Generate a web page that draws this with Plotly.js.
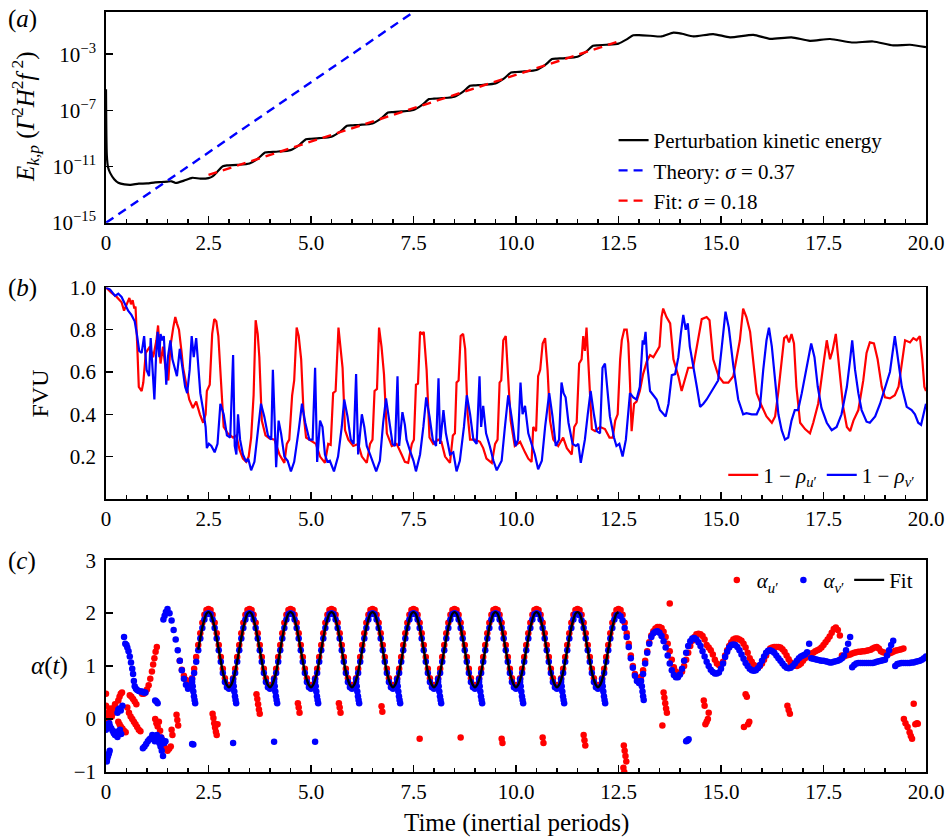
<!DOCTYPE html>
<html><head><meta charset="utf-8">
<script src="https://cdn.plot.ly/plotly-3.0.1.min.js"></script>
<style>html,body{margin:0;padding:0;background:#fff}#chart{width:946px;height:839px}</style>
</head><body><div id="chart"></div>
<script>
// ---------- shared axis ticks ----------
const timeTickVals = [0, 2.5, 5, 7.5, 10, 12.5, 15, 17.5, 20];
const timeTickText = ['0', '2.5', '5.0', '7.5', '10.0', '12.5', '15.0', '17.5', '20.0'];

// ---------- panel (a): log10 of perturbation kinetic energy ----------
const energyPoints = [
 [0,-5.5],[0.02,-10.2],[0.05,-11.05],[0.1,-11.45],[0.2,-11.9],[0.3,-12.15],[0.45,-12.27],[0.6,-12.3],
 [0.8,-12.22],[1.0,-12.2],[1.2,-12.12],[1.35,-12.1],[1.5,-12.07],[1.6,-12.05],[1.7,-12.17],[1.9,-12.0],
 [2.1,-11.8],[2.3,-11.86],[2.5,-11.82],[2.6,-11.7],[2.72,-11.35],[2.85,-10.98],[2.95,-10.92],[3.2,-10.88],
 [3.5,-10.78],[3.72,-10.4],[3.88,-10.0],[4.0,-9.97],[4.2,-9.93],[4.5,-9.83],[4.72,-9.45],[4.88,-9.05],
 [5.0,-9.02],[5.2,-8.98],[5.5,-8.88],[5.72,-8.5],[5.88,-8.1],[6.0,-8.07],[6.2,-8.03],[6.5,-7.93],
 [6.72,-7.55],[6.88,-7.15],[7.0,-7.12],[7.2,-7.08],[7.5,-6.98],[7.72,-6.6],[7.88,-6.2],[8.0,-6.17],
 [8.2,-6.13],[8.5,-6.03],[8.72,-5.65],[8.88,-5.25],[9.0,-5.22],[9.2,-5.18],[9.5,-5.08],[9.72,-4.7],
 [9.88,-4.3],[10.0,-4.27],[10.2,-4.23],[10.5,-4.13],[10.72,-3.75],[10.88,-3.35],[11.0,-3.32],[11.2,-3.28],
 [11.5,-3.18],[11.72,-2.8],[11.88,-2.4],[12.0,-2.37],[12.2,-2.33],[12.5,-2.25],[12.7,-1.95],[12.86,-1.66],
 [13.0,-1.65],[13.27,-1.69],[13.55,-1.74],[13.84,-1.47],[14.05,-1.55],[14.33,-1.74],[14.81,-1.57],[15.22,-1.8],
 [15.79,-1.63],[16.19,-1.91],[16.72,-1.8],[17.17,-2.05],[17.66,-1.92],[18.19,-2.17],[18.71,-2.1],[19.2,-2.38],
 [19.61,-2.33],[20.0,-2.5]
];
const theoryT = [0, 7.5];
const theoryLog10 = [-15, 0];
const growthFitT = [2.5, 12.5];
const growthFitLog10 = [-11.6, -2.1];
const energyTickVals = [-15, -11, -7, -3];
const energyTickText = ['10<sup>−15</sup>', '10<sup>−11</sup>', '10<sup>−7</sup>', '10<sup>−3</sup>'];

// ---------- panel (b): FVU ----------
const fvuU = [
 [0,1.0],[0.13,0.975],[0.26,0.955],[0.38,0.93],[0.44,0.89],[0.5,0.92],[0.57,0.95],[0.61,0.92],[0.65,0.94],[0.69,0.90],
 [0.72,0.91],[0.76,0.735],[0.80,0.53],[0.87,0.51],[0.91,0.55],[0.97,0.69],[1.07,0.72],[1.15,0.67],[1.23,0.75],[1.27,0.82],
 [1.33,0.64],[1.39,0.72],[1.45,0.62],[1.52,0.56],[1.57,0.72],[1.64,0.81],[1.69,0.86],[1.73,0.83],[1.78,0.80],[1.84,0.70],
 [1.88,0.62],[1.94,0.56],[2.03,0.47],[2.12,0.43],[2.20,0.46],[2.29,0.40],[2.37,0.36],[2.43,0.40],[2.46,0.51],[2.53,0.54],
 [2.59,0.78],[2.64,0.85],[2.69,0.84],[2.74,0.77],[2.79,0.59],[2.87,0.34],[2.97,0.31],[3.10,0.29],[3.18,0.30],[3.26,0.23],
 [3.34,0.19],[3.42,0.175],[3.48,0.20],[3.54,0.29],[3.60,0.49],[3.65,0.845],[3.70,0.78],[3.74,0.67],[3.80,0.37],[3.89,0.30],
 [3.99,0.285],[4.11,0.28],[4.23,0.21],[4.35,0.17],[4.41,0.26],[4.47,0.28],[4.54,0.49],[4.59,0.56],[4.65,0.81],[4.70,0.77],
 [4.76,0.66],[4.82,0.40],[4.88,0.29],[5.04,0.27],[5.12,0.26],[5.22,0.20],[5.34,0.17],[5.42,0.26],[5.48,0.255],[5.54,0.50],
 [5.60,0.51],[5.67,0.81],[5.72,0.72],[5.77,0.62],[5.83,0.325],[5.91,0.28],[6.03,0.25],[6.15,0.26],[6.24,0.20],[6.36,0.17],
 [6.44,0.26],[6.50,0.28],[6.55,0.51],[6.61,0.52],[6.66,0.81],[6.72,0.72],[6.78,0.59],[6.85,0.31],[6.97,0.25],[7.09,0.26],
 [7.21,0.21],[7.29,0.175],[7.37,0.17],[7.46,0.26],[7.51,0.28],[7.56,0.54],[7.61,0.545],[7.66,0.79],[7.71,0.78],[7.75,0.79],
 [7.82,0.61],[7.89,0.29],[7.98,0.26],[8.10,0.28],[8.18,0.27],[8.27,0.20],[8.39,0.17],[8.46,0.30],[8.51,0.31],[8.55,0.55],
 [8.60,0.56],[8.65,0.77],[8.71,0.78],[8.76,0.71],[8.82,0.40],[8.88,0.28],[9.00,0.28],[9.12,0.27],[9.20,0.24],[9.28,0.19],
 [9.41,0.17],[9.49,0.26],[9.55,0.28],[9.60,0.55],[9.64,0.56],[9.69,0.75],[9.75,0.77],[9.81,0.56],[9.87,0.37],[9.97,0.25],
 [10.10,0.27],[10.22,0.22],[10.30,0.19],[10.38,0.175],[10.42,0.34],[10.49,0.32],[10.54,0.58],[10.59,0.61],[10.65,0.735],[10.71,0.76],
 [10.77,0.61],[10.83,0.37],[10.91,0.28],[11.03,0.25],[11.15,0.29],[11.24,0.24],[11.36,0.21],[11.42,0.34],[11.48,0.36],[11.54,0.64],
 [11.60,0.66],[11.64,0.77],[11.68,0.70],[11.72,0.81],[11.78,0.58],[11.85,0.33],[11.93,0.32],[12.05,0.34],[12.17,0.33],[12.28,0.29],
 [12.36,0.29],[12.42,0.37],[12.48,0.40],[12.54,0.66],[12.58,0.75],[12.64,0.80],[12.70,0.80],[12.74,0.735],[12.78,0.55],[12.82,0.32],
 [12.88,0.45],[12.94,0.46],[13.02,0.51],[13.10,0.59],[13.19,0.65],[13.27,0.68],[13.35,0.67],[13.43,0.70],[13.50,0.72],[13.55,0.86],
 [13.59,0.90],[13.67,0.86],[13.76,0.83],[13.84,0.66],[13.96,0.58],[14.04,0.51],[14.12,0.56],[14.20,0.62],[14.32,0.62],[14.41,0.72],
 [14.53,0.85],[14.65,0.86],[14.72,0.845],[14.81,0.66],[14.94,0.58],[15.06,0.55],[15.18,0.55],[15.30,0.58],[15.38,0.66],[15.46,0.75],
 [15.54,0.90],[15.62,0.86],[15.71,0.79],[15.79,0.64],[15.87,0.50],[15.99,0.44],[16.11,0.39],[16.24,0.36],[16.32,0.39],[16.40,0.51],
 [16.48,0.64],[16.54,0.76],[16.60,0.77],[16.66,0.74],[16.72,0.78],[16.78,0.735],[16.84,0.53],[16.93,0.36],[17.05,0.33],[17.17,0.31],
 [17.25,0.36],[17.37,0.45],[17.50,0.64],[17.58,0.75],[17.66,0.66],[17.72,0.70],[17.80,0.78],[17.88,0.62],[17.98,0.435],[18.07,0.34],
 [18.15,0.32],[18.23,0.37],[18.35,0.42],[18.47,0.56],[18.55,0.69],[18.63,0.74],[18.73,0.735],[18.82,0.66],[18.92,0.53],[19.00,0.48],
 [19.12,0.475],[19.24,0.49],[19.33,0.53],[19.41,0.64],[19.49,0.75],[19.61,0.74],[19.69,0.76],[19.77,0.75],[19.85,0.77],[19.91,0.66],
 [19.96,0.53],[20.00,0.51]
];
const fvuV = [
 [0,1.0],[0.10,0.99],[0.22,0.96],[0.30,0.97],[0.38,0.955],[0.46,0.925],[0.54,0.89],[0.62,0.87],[0.70,0.84],[0.76,0.77],
 [0.81,0.70],[0.87,0.69],[0.93,0.77],[0.99,0.61],[1.05,0.58],[1.09,0.76],[1.14,0.61],[1.18,0.47],[1.22,0.67],[1.26,0.79],
 [1.30,0.67],[1.33,0.78],[1.37,0.75],[1.41,0.77],[1.45,0.62],[1.47,0.54],[1.51,0.67],[1.57,0.75],[1.62,0.66],[1.68,0.61],
 [1.73,0.58],[1.80,0.71],[1.86,0.62],[1.93,0.53],[1.98,0.50],[2.04,0.61],[2.09,0.77],[2.14,0.67],[2.20,0.76],[2.25,0.62],
 [2.30,0.50],[2.37,0.42],[2.43,0.34],[2.46,0.24],[2.51,0.26],[2.57,0.25],[2.65,0.22],[2.72,0.26],[2.79,0.45],[2.87,0.40],
 [2.95,0.30],[3.03,0.29],[3.10,0.68],[3.14,0.25],[3.18,0.21],[3.22,0.40],[3.27,0.28],[3.34,0.21],[3.42,0.175],[3.47,0.19],
 [3.54,0.135],[3.62,0.175],[3.70,0.31],[3.78,0.45],[3.86,0.39],[3.95,0.30],[4.03,0.28],[4.07,0.61],[4.11,0.39],[4.15,0.15],
 [4.21,0.37],[4.27,0.31],[4.35,0.20],[4.43,0.18],[4.51,0.13],[4.59,0.175],[4.70,0.325],[4.78,0.45],[4.86,0.36],[4.96,0.28],
 [5.04,0.28],[5.10,0.62],[5.15,0.175],[5.22,0.37],[5.28,0.34],[5.34,0.21],[5.40,0.175],[5.46,0.18],[5.56,0.13],[5.66,0.20],
 [5.75,0.34],[5.81,0.47],[5.89,0.39],[5.97,0.28],[6.04,0.26],[6.10,0.59],[6.15,0.21],[6.24,0.40],[6.30,0.34],[6.36,0.25],
 [6.44,0.21],[6.52,0.17],[6.59,0.13],[6.68,0.18],[6.76,0.36],[6.83,0.475],[6.91,0.37],[6.99,0.26],[7.05,0.25],[7.11,0.58],
 [7.15,0.25],[7.23,0.41],[7.29,0.35],[7.33,0.28],[7.41,0.23],[7.50,0.18],[7.56,0.13],[7.66,0.21],[7.74,0.34],[7.81,0.48],
 [7.89,0.39],[7.97,0.28],[8.05,0.25],[8.11,0.57],[8.15,0.26],[8.23,0.42],[8.29,0.31],[8.39,0.21],[8.47,0.22],[8.55,0.13],
 [8.63,0.18],[8.73,0.34],[8.80,0.49],[8.88,0.40],[8.96,0.28],[9.04,0.26],[9.11,0.58],[9.15,0.34],[9.20,0.44],[9.27,0.31],
 [9.36,0.25],[9.45,0.18],[9.53,0.135],[9.65,0.18],[9.73,0.34],[9.81,0.49],[9.89,0.39],[9.99,0.25],[10.05,0.28],[10.11,0.55],
 [10.16,0.40],[10.22,0.44],[10.30,0.31],[10.38,0.26],[10.46,0.21],[10.54,0.14],[10.63,0.18],[10.71,0.34],[10.81,0.50],[10.89,0.39],
 [10.97,0.25],[11.05,0.28],[11.11,0.55],[11.16,0.50],[11.21,0.48],[11.28,0.36],[11.38,0.26],[11.46,0.25],[11.52,0.26],[11.58,0.17],
 [11.68,0.28],[11.75,0.40],[11.82,0.51],[11.90,0.40],[11.97,0.32],[12.05,0.31],[12.11,0.62],[12.17,0.64],[12.22,0.53],[12.29,0.39],
 [12.39,0.29],[12.45,0.25],[12.52,0.26],[12.60,0.20],[12.68,0.28],[12.78,0.50],[12.86,0.48],[12.94,0.47],[13.02,0.53],[13.09,0.75],
 [13.12,0.73],[13.16,0.79],[13.21,0.62],[13.27,0.51],[13.35,0.49],[13.43,0.47],[13.51,0.42],[13.59,0.40],[13.65,0.39],[13.72,0.45],
 [13.80,0.585],[13.88,0.59],[13.96,0.67],[14.02,0.78],[14.08,0.87],[14.14,0.80],[14.19,0.83],[14.24,0.72],[14.32,0.62],[14.41,0.53],
 [14.49,0.435],[14.57,0.45],[14.65,0.47],[14.77,0.51],[14.85,0.53],[14.93,0.56],[15.02,0.72],[15.11,0.885],[15.19,0.81],[15.30,0.63],
 [15.42,0.47],[15.54,0.40],[15.62,0.405],[15.75,0.40],[15.87,0.40],[15.95,0.435],[16.03,0.61],[16.11,0.75],[16.17,0.81],[16.24,0.72],
 [16.32,0.56],[16.40,0.40],[16.48,0.325],[16.56,0.28],[16.64,0.29],[16.72,0.37],[16.80,0.42],[16.88,0.42],[16.97,0.50],[17.09,0.625],
 [17.20,0.735],[17.28,0.67],[17.36,0.53],[17.45,0.43],[17.58,0.36],[17.70,0.325],[17.82,0.34],[17.94,0.40],[18.07,0.53],[18.15,0.66],
 [18.20,0.75],[18.27,0.61],[18.35,0.50],[18.43,0.42],[18.55,0.365],[18.63,0.36],[18.76,0.39],[18.88,0.45],[19.00,0.53],[19.12,0.60],
 [19.24,0.77],[19.33,0.64],[19.41,0.53],[19.53,0.435],[19.65,0.42],[19.73,0.40],[19.81,0.36],[19.88,0.35],[19.94,0.40],[20.00,0.45]
];
const fvuTickVals = [0.2, 0.4, 0.6, 0.8, 1.0];
const fvuTickText = ['0.2', '0.4', '0.6', '0.8', '1.0'];

// ---------- panel (c): alpha(t) ----------
// regularly sampled branches (start time, spacing, values)
const alphaUStart = 1.8, alphaUStep = 0.05;
const alphaUMain = [
 1.10,0.93,0.82,0.74,
 0.70,0.72,0.77,0.95,1.17,1.40,1.62,1.82,1.97,2.06,2.08,2.06,1.97,1.82,1.62,1.40,1.17,0.95,0.77,0.65,
 0.61,0.65,0.77,0.95,1.17,1.40,1.62,1.82,1.97,2.06,2.08,2.06,1.97,1.82,1.62,1.40,1.17,0.95,0.77,0.65,
 0.61,0.65,0.77,0.95,1.17,1.40,1.62,1.82,1.97,2.06,2.08,2.06,1.97,1.82,1.62,1.40,1.17,0.95,0.77,0.65,
 0.61,0.65,0.77,0.95,1.17,1.40,1.62,1.82,1.97,2.06,2.08,2.06,1.97,1.82,1.62,1.40,1.17,0.95,0.77,0.65,
 0.61,0.65,0.77,0.95,1.17,1.40,1.62,1.82,1.97,2.06,2.08,2.06,1.97,1.82,1.62,1.40,1.17,0.95,0.77,0.65,
 0.61,0.65,0.77,0.95,1.17,1.40,1.62,1.82,1.97,2.06,2.08,2.06,1.97,1.82,1.62,1.40,1.17,0.95,0.77,0.65,
 0.61,0.65,0.77,0.95,1.17,1.40,1.62,1.82,1.97,2.06,2.08,2.06,1.97,1.82,1.62,1.40,1.17,0.95,0.77,0.65,
 0.61,0.65,0.77,0.95,1.17,1.40,1.62,1.82,1.97,2.06,2.08,2.06,1.97,1.82,1.62,1.40,1.17,0.95,0.77,0.65,
 0.61,0.65,0.77,0.95,1.17,1.40,1.62,1.82,1.97,2.06,2.08,2.06,1.97,1.82,1.62,1.40,1.17,0.95,0.77,0.65,
 0.61,0.65,0.77,0.95,1.17,1.40,1.62,1.82,1.97,2.06,2.08,2.06,1.97,1.82,1.62,1.40,1.17,0.95,0.77,0.65,
 0.61,0.65,0.77,0.95,1.17,1.40,1.62,1.82,1.97,2.06,2.08,
 2.06,1.97,1.82,1.62,1.42,1.20,1.00,0.85,0.77,0.75,
 0.80,0.92,1.10,1.28,1.45,1.58,1.66,1.71,1.74,1.74,
 1.72,1.65,1.55,1.42,1.28,1.12,0.98,0.90,0.86,0.86,
 0.90,1.00,1.12,1.25,1.38,1.48,1.55,1.60,1.61,1.60,
 1.57,1.50,1.40,1.35,1.30,1.22,1.12,1.05,1.02,1.02,
 1.08,1.20,1.30,1.38,1.45,1.50,1.52,1.52,1.50,1.48,
 1.42,1.35,1.25,1.15,1.08,1.02,0.99,0.98,1.00,1.05,
 1.12,1.20,1.28,1.33,1.35,1.36,1.36,1.36,1.35,1.32,
 1.27,1.20,1.13,1.07,1.03,1.01,1.00,1.02,1.05,1.10,
 1.15,1.20,1.22,1.24,1.25,1.28,1.30,1.32,1.35,1.40,
 1.45,1.50,1.56,1.63,1.70,1.73,1.68,1.58,1.20,1.18,
 1.20,1.21,1.22,1.24,1.25,1.26,1.27,1.27,1.28,1.28,
 1.29,1.30,1.31,1.33,1.35,1.36,1.33,1.28,1.26,1.25,
 1.24,1.24,1.25,1.27,1.29,1.30,1.31,1.32,1.33
];
const alphaUScatter = [
 [0.0,0.48],[0.0,0.25],[0.02,0.05],[0.04,0.1],[0.06,0.0],[0.08,0.15],[0.1,0.2],[0.12,0.12],[0.14,0.05],[0.16,0.1],
 [0.18,0.18],[0.2,0.22],[0.22,0.28],[0.25,0.2],[0.3,0.35],[0.33,0.42],[0.36,0.48],[0.39,0.5],[0.3,-0.05],[0.33,-0.1],
 [0.36,-0.14],[0.4,-0.18],[0.44,-0.22],[0.48,-0.25],[0.52,0.22],[0.56,0.12],[0.6,0.05],[0.64,0.0],[0.68,-0.05],[0.72,-0.1],
 [0.76,-0.15],[0.8,-0.2],[0.84,-0.23],[0.58,0.45],[0.62,0.42],[0.66,0.38],[0.7,0.33],[0.74,0.28],
 [0.88,0.48],[0.92,0.48],[0.96,0.5],[1.0,0.56],[1.04,0.64],[1.08,0.76],[1.12,0.9],[1.15,1.03],[1.18,1.15],[1.21,1.27],[1.24,1.36],
 [1.2,0.0],[1.23,-0.08],[1.26,-0.14],[1.29,-0.05],[1.32,-0.22],[1.35,-0.35],[1.38,-0.45],[1.42,-0.52],[1.46,-0.57],[1.5,-0.6],
 [1.54,-0.56],[1.58,-0.52],[1.6,-0.2],[1.62,-0.3],[1.72,0.08],[1.74,-0.02],[1.76,-0.12],
 [2.6,0.1],[2.62,0.02],[2.64,-0.08],[2.66,-0.16],[2.68,-0.24],[2.7,-0.3],[2.72,-0.1],
 [3.67,0.47],[3.69,0.38],[3.71,0.28],[3.73,0.18],[3.75,0.1],
 [4.68,0.3],[4.7,0.22],[4.72,0.12],[5.68,0.3],[5.7,0.22],[5.72,0.12],[6.72,0.24],[6.74,0.14],
 [7.65,-0.37],[8.65,-0.35],[9.65,-0.37],[9.67,-0.45],[10.65,-0.35],[10.67,-0.45],
 [11.65,-0.3],[11.67,-0.4],[11.69,-0.5],
 [12.63,-0.5],[12.65,-0.6],[12.67,-0.7],[12.69,-0.8],[12.62,-0.92],[12.64,-1.0],
 [13.57,-0.12],[13.6,0.5],[13.62,0.4],[13.64,0.3],[13.66,0.2],[13.68,0.12],[13.75,2.18],
 [14.58,0.35],[14.6,0.25],[14.62,-0.1],[14.65,-0.05],[14.68,0.0],[14.7,0.12],
 [15.56,-0.15],[15.6,0.47],[15.63,0.42],[15.66,-0.1],[15.69,-0.05],
 [16.62,0.25],[16.65,0.17],[16.68,0.1],
 [19.46,0.0],[19.5,-0.08],[19.55,-0.15],[19.6,-0.25],[19.63,-0.32],[19.66,-0.37],[19.7,0.29],[19.74,-0.1],[19.78,-0.08],[19.8,-0.09]
];
const alphaVStart = 1.5, alphaVStep = 0.05;
const alphaVMain = [
 2.08,2.00,1.86,1.68,1.50,1.30,1.10,0.92,0.76,0.65,
 0.57,0.60,0.70,0.87,1.08,1.30,1.52,1.72,1.88,1.98,2.00,1.98,1.88,1.72,1.52,1.30,1.08,0.87,0.70,0.60,
 0.57,0.60,0.70,0.87,1.08,1.30,1.52,1.72,1.88,1.98,2.00,1.98,1.88,1.72,1.52,1.30,1.08,0.87,0.70,0.60,
 0.57,0.60,0.70,0.87,1.08,1.30,1.52,1.72,1.88,1.98,2.00,1.98,1.88,1.72,1.52,1.30,1.08,0.87,0.70,0.60,
 0.57,0.60,0.70,0.87,1.08,1.30,1.52,1.72,1.88,1.98,2.00,1.98,1.88,1.72,1.52,1.30,1.08,0.87,0.70,0.60,
 0.57,0.60,0.70,0.87,1.08,1.30,1.52,1.72,1.88,1.98,2.00,1.98,1.88,1.72,1.52,1.30,1.08,0.87,0.70,0.60,
 0.57,0.60,0.70,0.87,1.08,1.30,1.52,1.72,1.88,1.98,2.00,1.98,1.88,1.72,1.52,1.30,1.08,0.87,0.70,0.60,
 0.57,0.60,0.70,0.87,1.08,1.30,1.52,1.72,1.88,1.98,2.00,1.98,1.88,1.72,1.52,1.30,1.08,0.87,0.70,0.60,
 0.57,0.60,0.70,0.87,1.08,1.30,1.52,1.72,1.88,1.98,2.00,1.98,1.88,1.72,1.52,1.30,1.08,0.87,0.70,0.60,
 0.57,0.60,0.70,0.87,1.08,1.30,1.52,1.72,1.88,1.98,2.00,1.98,1.88,1.72,1.52,1.30,1.08,0.87,0.70,0.60,
 0.57,0.60,0.70,0.87,1.08,1.30,1.52,1.72,1.88,1.98,1.98,1.96,1.86,1.72,1.52,1.30,1.08,0.87,0.70,0.60,
 0.57,0.60,0.70,0.87,1.08,1.30,1.52,1.72,1.88,1.96,1.97,
 1.94,1.86,1.72,1.55,1.36,1.15,0.97,0.82,0.72,0.68,
 0.72,0.85,1.05,1.25,1.42,1.55,1.62,1.65,1.66,1.63,
 1.57,1.47,1.35,1.20,1.05,0.92,0.83,0.79,0.79,0.84,
 0.95,1.10,1.25,1.38,1.47,1.52,1.53,1.50,1.45,1.38,
 1.28,1.18,1.08,1.00,0.93,0.89,0.86,0.86,0.88,0.95,
 1.05,1.17,1.27,1.35,1.40,1.41,1.40,1.36,1.30,1.22,
 1.14,1.06,1.00,0.95,0.92,0.91,0.92,0.96,1.02,1.10,
 1.18,1.25,1.29,1.30,1.28,1.25,1.20,1.15,1.10,1.05,
 1.00,0.97,0.96,0.97,1.00,1.05,1.10,1.15,1.18,1.20,
 1.22,1.26,1.42,1.15,1.14,1.13,1.12,1.11,1.10,1.10,
 1.09,1.08,1.07,1.07,1.08,1.09,1.10,1.12,1.15,1.20,
 1.30,1.42,1.55,0.98,1.02,1.05,1.06,1.06,1.06,1.06,
 1.06,1.06,1.06,1.06,1.07,1.08,1.09,1.10,1.11,1.12,
 1.20,1.30,1.40,1.48,1.00,1.04,1.05,1.06,1.06,1.06,
 1.06,1.06,1.07,1.07,1.08,1.09,1.10,1.12,1.15,1.18
];
const alphaVScatter = [
 [0.0,-0.2],[0.01,-0.78],[0.02,-0.8],[0.03,-0.75],[0.05,-0.7],[0.07,-0.65],[0.09,-0.6],[0.02,-0.1],[0.05,-0.12],[0.08,-0.08],
 [0.1,-0.14],[0.13,-0.18],[0.16,-0.22],[0.19,-0.27],[0.22,-0.3],[0.25,-0.24],[0.28,-0.34],[0.31,-0.25],[0.34,-0.2],[0.37,-0.28],
 [0.28,0.12],[0.3,0.18],[0.33,0.2],[0.36,0.16],[0.4,0.25],[0.44,1.55],[0.47,1.42],[0.5,1.4],[0.52,1.35],[0.55,1.28],
 [0.58,1.18],[0.61,1.07],[0.64,0.95],[0.66,0.85],[0.68,0.72],[0.7,0.62],[0.73,0.57],[0.76,0.55],[0.8,0.53],[0.84,0.52],
 [0.88,0.52],[0.92,0.5],[0.96,0.5],[0.9,-0.55],[0.94,-0.52],[0.98,-0.47],[1.02,-0.42],[1.06,-0.38],[1.1,-0.36],[1.13,-0.3],
 [1.16,-0.38],[1.19,-0.42],[1.2,0.35],[1.23,0.33],[1.26,0.3],[1.24,-0.3],[1.27,-0.38],[1.3,-0.45],[1.33,-0.52],[1.36,-0.6],
 [1.39,-0.7],[1.34,-0.35],[1.38,-0.4],[1.42,-0.45],[1.45,-0.42],[1.4,1.88],[1.43,1.95],[1.46,2.02],
 [2.1,-0.47],[2.13,-0.48],[3.1,-0.45],[4.1,-0.43],[5.1,-0.43],[14.15,-0.42],[14.17,-0.41],[14.19,-0.4],[14.21,-0.38],
 [2.10,0.75],[2.115,0.62],[2.13,0.52],[2.145,0.43],[2.16,0.36],[2.175,0.30],
 [3.10,0.75],[3.115,0.62],[3.13,0.52],[3.145,0.43],[3.16,0.36],[3.175,0.30],
 [4.10,0.75],[4.115,0.62],[4.13,0.52],[4.145,0.43],[4.16,0.36],[4.175,0.30],
 [5.10,0.75],[5.115,0.62],[5.13,0.52],[5.145,0.43],[5.16,0.36],[5.175,0.30],
 [6.10,0.75],[6.115,0.62],[6.13,0.52],[6.145,0.43],[6.16,0.36],[6.175,0.30],
 [7.10,0.75],[7.115,0.62],[7.13,0.52],[7.145,0.43],[7.16,0.36],[7.175,0.30],
 [8.10,0.75],[8.115,0.62],[8.13,0.52],[8.145,0.43],[8.16,0.36],[8.175,0.30],
 [9.10,0.75],[9.115,0.62],[9.13,0.52],[9.145,0.43],[9.16,0.36],[9.175,0.30],
 [10.10,0.75],[10.115,0.62],[10.13,0.52],[10.145,0.43],[10.16,0.36],[10.175,0.30],
 [11.10,0.75],[11.115,0.62],[11.13,0.52],[11.145,0.43],[11.16,0.36],[11.175,0.30],
 [12.10,0.75],[12.115,0.62],[12.13,0.52],[12.145,0.43],[12.16,0.36],[12.175,0.30],
 [13.07,0.62],[13.085,0.52],[13.10,0.43],[13.115,0.36]
];
const alphaFitStart = 2.25, alphaFitStep = 0.05;
const alphaFit = [
 1.31,1.53,1.73,1.88,1.99,
 2.02,1.99,1.88,1.73,1.53,1.31,1.09,0.89,0.74,0.64,
 0.60,0.64,0.74,0.89,1.09,1.31,1.53,1.73,1.88,1.99,2.02,1.99,1.88,1.73,1.53,1.31,1.09,0.89,0.74,0.64,
 0.60,0.64,0.74,0.89,1.09,1.31,1.53,1.73,1.88,1.99,2.02,1.99,1.88,1.73,1.53,1.31,1.09,0.89,0.74,0.64,
 0.60,0.64,0.74,0.89,1.09,1.31,1.53,1.73,1.88,1.99,2.02,1.99,1.88,1.73,1.53,1.31,1.09,0.89,0.74,0.64,
 0.60,0.64,0.74,0.89,1.09,1.31,1.53,1.73,1.88,1.99,2.02,1.99,1.88,1.73,1.53,1.31,1.09,0.89,0.74,0.64,
 0.60,0.64,0.74,0.89,1.09,1.31,1.53,1.73,1.88,1.99,2.02,1.99,1.88,1.73,1.53,1.31,1.09,0.89,0.74,0.64,
 0.60,0.64,0.74,0.89,1.09,1.31,1.53,1.73,1.88,1.99,2.02,1.99,1.88,1.73,1.53,1.31,1.09,0.89,0.74,0.64,
 0.60,0.64,0.74,0.89,1.09,1.31,1.53,1.73,1.88,1.99,2.02,1.99,1.88,1.73,1.53,1.31,1.09,0.89,0.74,0.64,
 0.60,0.64,0.74,0.89,1.09,1.31,1.53,1.73,1.88,1.99,2.02,1.99,1.88,1.73,1.53,1.31,1.09,0.89,0.74,0.64,
 0.60,0.64,0.74,0.89,1.09,1.31,1.53,1.73,1.88,1.99,2.02,1.99,1.88,1.73,1.53,1.31,1.09,0.89,0.74,0.64,
 0.60,0.64,0.74,0.89,1.09,1.31,1.53,1.73,1.88,1.99,2.02
];
const alphaTickVals = [-1, 0, 1, 2, 3];
const alphaTickText = ['−1', '0', '1', '2', '3'];

// ---------- build traces ----------
const FONT = 'Liberation Serif, "DejaVu Serif", serif';
const RED = '#ff0000', BLUE = '#0000ff';
const xs = p => p.map(d => d[0]);
const ys = p => p.map(d => d[1]);
const gridX = (start, step, vals) => vals.map((v, i) => +(start + i * step).toFixed(4));

const aU = gridX(alphaUStart, alphaUStep, alphaUMain).concat(xs(alphaUScatter));
const aUy = alphaUMain.concat(ys(alphaUScatter));
const aV = gridX(alphaVStart, alphaVStep, alphaVMain).concat(xs(alphaVScatter));
const aVy = alphaVMain.concat(ys(alphaVScatter));

const traces = [
 {x: xs(energyPoints), y: ys(energyPoints), type: 'scatter', mode: 'lines', xaxis: 'x', yaxis: 'y',
  line: {color: '#000', width: 2.2, shape: 'spline', smoothing: 0.6}, name: 'Perturbation kinetic energy', legend: 'legend'},
 {x: theoryT, y: theoryLog10, type: 'scatter', mode: 'lines', xaxis: 'x', yaxis: 'y',
  line: {color: BLUE, width: 2.4, dash: '9px,6px'}, name: 'Theory: <i>σ</i> = 0.37', legend: 'legend'},
 {x: growthFitT, y: growthFitLog10, type: 'scatter', mode: 'lines', xaxis: 'x', yaxis: 'y',
  line: {color: RED, width: 2.4, dash: '9px,6px'}, name: 'Fit: <i>σ</i> = 0.18', legend: 'legend'},

 {x: xs(fvuU), y: ys(fvuU), type: 'scatter', mode: 'lines', xaxis: 'x2', yaxis: 'y2',
  line: {color: RED, width: 2.2}, name: '1 − <i>ρ</i><sub><i>u</i>′</sub>', legend: 'legend2'},
 {x: xs(fvuV), y: ys(fvuV), type: 'scatter', mode: 'lines', xaxis: 'x2', yaxis: 'y2',
  line: {color: BLUE, width: 2.2}, name: '1 − <i>ρ</i><sub><i>v</i>′</sub>', legend: 'legend2'},

 {x: aU, y: aUy, type: 'scatter', mode: 'markers', xaxis: 'x3', yaxis: 'y3',
  marker: {color: RED, size: 6.5}, name: '<i>α</i><sub><i>u</i>′</sub>', legend: 'legend3'},
 {x: aV, y: aVy, type: 'scatter', mode: 'markers', xaxis: 'x3', yaxis: 'y3',
  marker: {color: BLUE, size: 6.5}, name: '<i>α</i><sub><i>v</i>′</sub>', legend: 'legend3'},
 {x: gridX(alphaFitStart, alphaFitStep, alphaFit), y: alphaFit, type: 'scatter', mode: 'lines', xaxis: 'x3', yaxis: 'y3',
  line: {color: '#000', width: 2.4, shape: 'spline'}, name: 'Fit', legend: 'legend3'}
];

// ---------- layout ----------
const tickFont = {family: FONT, size: 21, color: '#000'};
function xAxis(anchor) {
 return {domain: [0, 1], anchor: anchor, range: [0, 20], tickmode: 'array', tickvals: timeTickVals, ticktext: timeTickText,
  ticks: 'inside', ticklen: 7, tickwidth: 1.5, tickcolor: '#000',
  minor: {tickmode: 'linear', tick0: 0, dtick: 0.5, ticks: 'inside', ticklen: 4, tickwidth: 1.3, tickcolor: '#000', showgrid: false},
  showline: true, mirror: true, linecolor: '#000', linewidth: 1.8, showgrid: false, zeroline: false, tickfont: tickFont};
}
function yAxis(anchor, domain, range, tv, tt) {
 return {domain: domain, anchor: anchor, range: range, tickmode: 'array', tickvals: tv, ticktext: tt,
  ticks: 'inside', ticklen: 7, tickwidth: 1.5, tickcolor: '#000', ticklabelstandoff: 4,
  showline: true, mirror: true, linecolor: '#000', linewidth: 1.8, showgrid: false, zeroline: false, tickfont: tickFont};
}
const legendBase = {bgcolor: 'rgba(0,0,0,0)', borderwidth: 0, font: {family: FONT, size: 21, color: '#000'}};

const layout = {
 width: 946, height: 839,
 margin: {l: 106, r: 20, t: 12, b: 67},
 paper_bgcolor: '#fff', plot_bgcolor: '#fff',
 font: {family: FONT, size: 21, color: '#000'},
 xaxis: xAxis('y'),
 yaxis: yAxis('x', [0.7227, 1], [-15, 0], energyTickVals, energyTickText),
 xaxis2: xAxis('y2'),
 yaxis2: yAxis('x2', [0.3594, 0.6376], [0, 1.0], fvuTickVals, fvuTickText),
 xaxis3: xAxis('y3'),
 yaxis3: yAxis('x3', [0, 0.2787], [-1, 3], alphaTickVals, alphaTickText),
 showlegend: true,
 legend: Object.assign({}, legendBase, {x: 0.619, xanchor: 'left', y: 0.858, yanchor: 'top', orientation: 'v', tracegroupgap: 0}),
 legend2: Object.assign({}, legendBase, {x: 0.993, xanchor: 'right', y: 0.3906, yanchor: 'middle', orientation: 'h'}),
 legend3: Object.assign({}, legendBase, {x: 0.99, xanchor: 'right', y: 0.2523, yanchor: 'middle', orientation: 'h'}),
 annotations: [
  {text: '(<i>a</i>)', xref: 'paper', yref: 'paper', x: -0.1024, y: 0.9908, xanchor: 'center', yanchor: 'middle', showarrow: false, font: {family: FONT, size: 25}},
  {text: '(<i>b</i>)', xref: 'paper', yref: 'paper', x: -0.1024, y: 0.6374, xanchor: 'center', yanchor: 'middle', showarrow: false, font: {family: FONT, size: 25}},
  {text: '(<i>c</i>)', xref: 'paper', yref: 'paper', x: -0.1024, y: 0.2773, xanchor: 'center', yanchor: 'middle', showarrow: false, font: {family: FONT, size: 25}},
  {text: '<i>E</i><sub><i>k,p</i></sub> (<i>Γ</i><sup>2</sup><i>H</i><sup>2</sup><i>f</i>\u2009<sup>2</sup>)', xref: 'paper', yref: 'paper',
   x: -0.0985, y: 0.862, xanchor: 'center', yanchor: 'middle', textangle: -90, showarrow: false, font: {family: FONT, size: 25}},
  {text: 'FVU', xref: 'paper', yref: 'paper', x: -0.080, y: 0.4985, xanchor: 'center', yanchor: 'middle', textangle: -90, showarrow: false, font: {family: FONT, size: 24}},
  {text: '<i>α</i>(<i>t</i>)', xref: 'paper', yref: 'paper', x: -0.0689, y: 0.139, xanchor: 'center', yanchor: 'middle', showarrow: false, font: {family: FONT, size: 25}},
  {text: 'Time (inertial periods)', xref: 'paper', yref: 'paper', x: 0.5, y: -0.0675, xanchor: 'center', yanchor: 'middle', showarrow: false, font: {family: FONT, size: 25}}
 ]
};

Plotly.newPlot('chart', traces, layout, {displayModeBar: false, staticPlot: true});
</script></body></html>
